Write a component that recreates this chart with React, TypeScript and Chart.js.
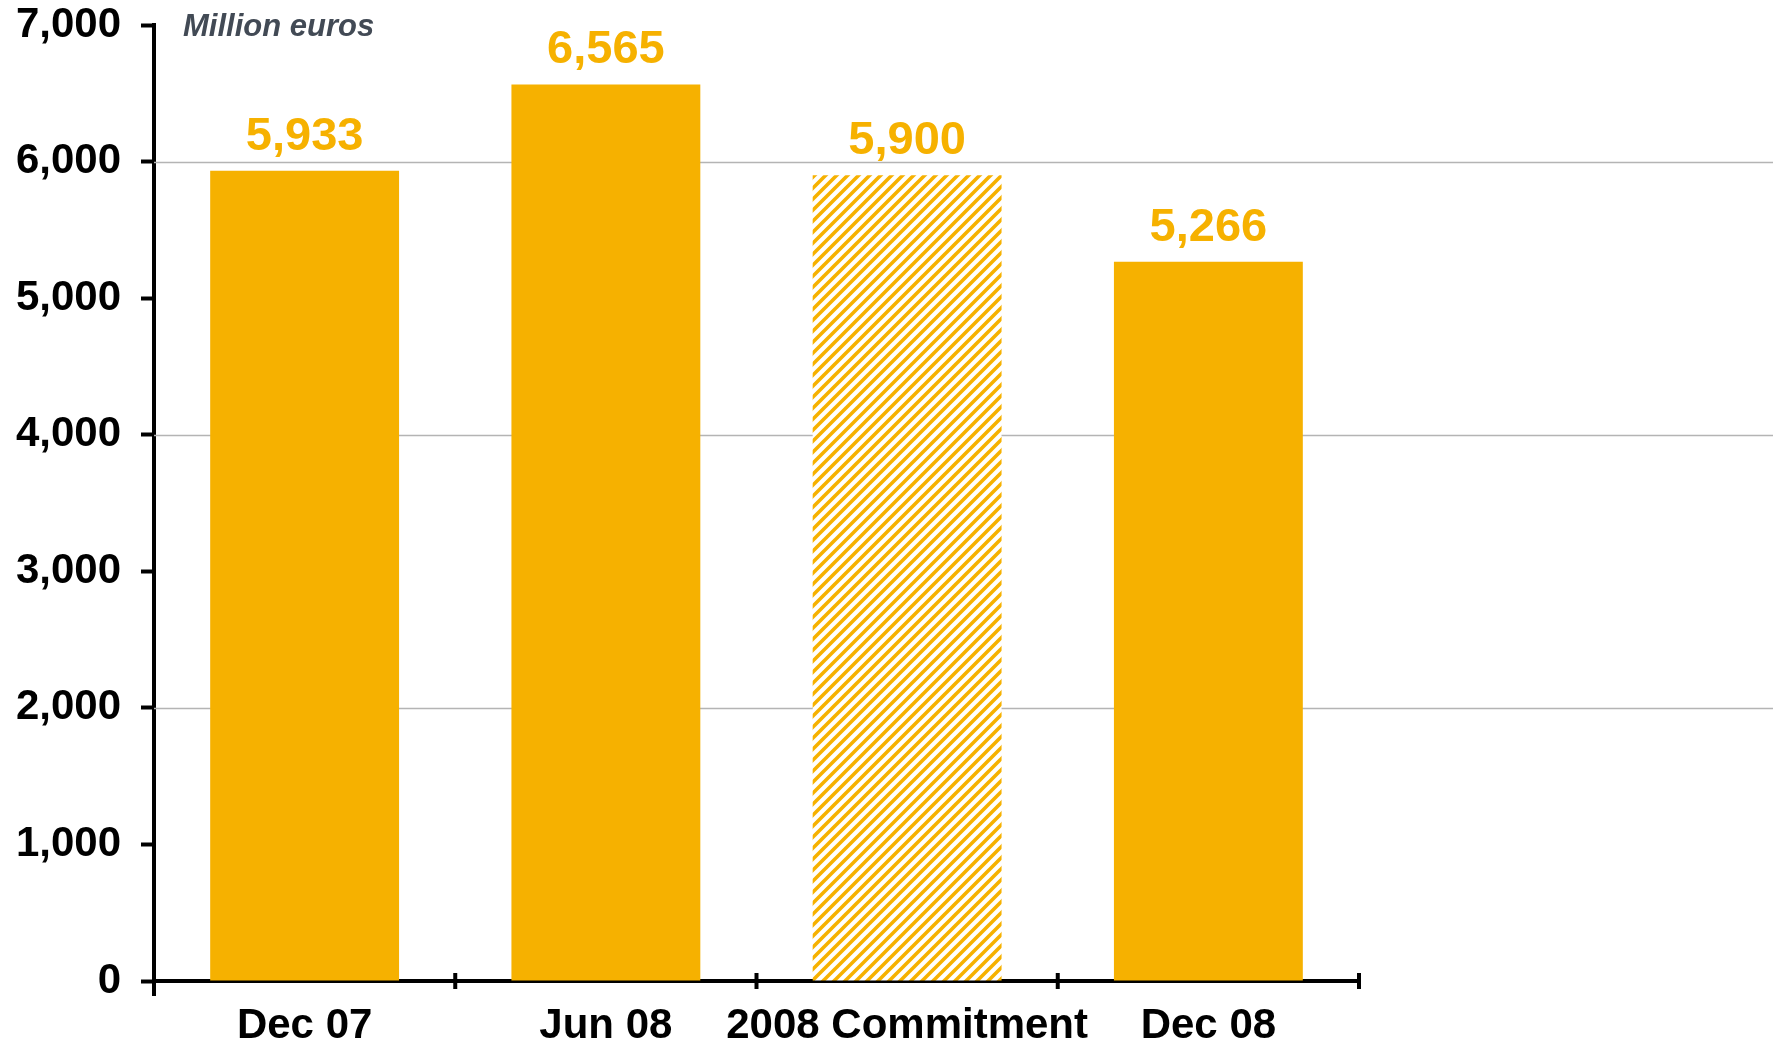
import React, { useEffect, useRef } from "react";
import { Chart, registerables } from "chart.js";

Chart.register(...registerables);

const categories = ["Dec 07", "Jun 08", "2008 Commitment", "Dec 08"];
const values = [5933, 6565, 5900, 5266];
const hatched = [false, false, true, false];
const gridValues = [2000, 4000, 6000];
const yMin = 0;
const yMax = 7000;
const yStep = 1000;
const unitLabel = "Million euros";

const ORANGE = "#F6B100";
const FONT = "'Liberation Sans', Arial, Helvetica, sans-serif";

const fmt = (v: number) => v.toLocaleString("en-US");

function makePattern(): CanvasPattern | string {
  const size = 11;
  const c = document.createElement("canvas");
  c.width = size;
  c.height = size;
  const ctx = c.getContext("2d");
  if (!ctx) return ORANGE;
  ctx.fillStyle = "#ffffff";
  ctx.fillRect(0, 0, size, size);
  ctx.strokeStyle = ORANGE;
  ctx.lineWidth = 3.6;
  ctx.lineCap = "square";
  const lines = [
    [-size, size, size, -size],
    [0, size, size, 0],
    [0, 2 * size, 2 * size, 0],
  ];
  for (const [x1, y1, x2, y2] of lines) {
    ctx.beginPath();
    ctx.moveTo(x1, y1);
    ctx.lineTo(x2, y2);
    ctx.stroke();
  }
  const p = ctx.createPattern(c, "repeat");
  return p || ORANGE;
}

const decorPlugin = {
  id: "decor",
  beforeDatasetsDraw(chart: any) {
    const { ctx, chartArea, scales } = chart;
    const y = scales.y;
    ctx.save();
    ctx.strokeStyle = "#b4b4b4";
    ctx.lineWidth = 1.5;
    for (const g of gridValues) {
      const py = Math.round(y.getPixelForValue(g)) + 0.5;
      ctx.beginPath();
      ctx.moveTo(chartArea.left, py);
      ctx.lineTo(chart.width, py);
      ctx.stroke();
    }
    ctx.restore();
  },
  afterDatasetsDraw(chart: any) {
    const { ctx, chartArea, scales } = chart;
    const x = scales.x;
    const bottom = chartArea.bottom;
    ctx.save();
    ctx.strokeStyle = "#000";
    ctx.lineWidth = 4;
    const n = categories.length;
    const half = (x.getPixelForValue(1) - x.getPixelForValue(0)) / 2;
    for (let i = 1; i <= n; i++) {
      const px = x.getPixelForValue(i - 1) + half;
      ctx.beginPath();
      ctx.moveTo(px, bottom - 8);
      ctx.lineTo(px, bottom + 8);
      ctx.stroke();
    }
    ctx.beginPath();
    ctx.moveTo(chartArea.left, bottom);
    ctx.lineTo(chartArea.left, bottom + 15);
    ctx.stroke();

    const meta = chart.getDatasetMeta(0);
    ctx.fillStyle = ORANGE;
    ctx.font = `bold 47px ${FONT}`;
    ctx.textAlign = "center";
    ctx.textBaseline = "alphabetic";
    meta.data.forEach((bar: any, i: number) => {
      ctx.fillText(fmt(values[i]), bar.x, bar.y - 21);
    });

    ctx.fillStyle = "#424a55";
    ctx.font = `italic bold 31px ${FONT}`;
    ctx.textAlign = "left";
    ctx.fillText(unitLabel, chartArea.left + 29, 36);
    ctx.restore();
  },
};

export default function App() {
  const ref = useRef<HTMLCanvasElement | null>(null);

  useEffect(() => {
    document.body.style.margin = "0";
    const canvas = ref.current;
    if (!canvas) return;
    const pattern = makePattern();
    const colors = hatched.map((h) => (h ? pattern : ORANGE));
    const chart = new Chart(canvas, {
      type: "bar",
      data: {
        labels: categories,
        datasets: [
          {
            data: values,
            backgroundColor: colors as any,
            borderWidth: 0,
            barPercentage: 0.627,
            categoryPercentage: 1,
          },
        ],
      },
      options: {
        responsive: false,
        animation: false,
        devicePixelRatio: 1,
        layout: { padding: { top: 25, right: 414, left: 0, bottom: 0 } },
        plugins: {
          legend: { display: false },
          tooltip: { enabled: false },
          title: { display: false },
        },
        scales: {
          x: {
            type: "category",
            offset: true,
            grid: { display: false },
            border: { display: true, color: "#000", width: 4 },
            ticks: {
              color: "#000",
              font: { family: FONT, size: 42, weight: "bold" },
              padding: 12,
              maxRotation: 0,
              autoSkip: false,
            },
            afterFit(scale: any) {
              scale.height = 63;
              scale.paddingLeft = 0;
              scale.paddingRight = 0;
            },
          },
          y: {
            min: yMin,
            max: yMax,
            grid: {
              drawOnChartArea: false,
              drawTicks: true,
              tickLength: 13,
              tickColor: "#000",
              tickWidth: 4,
            },
            border: { display: true, color: "#000", width: 4 },
            ticks: {
              stepSize: yStep,
              color: "#000",
              font: { family: FONT, size: 42, weight: "bold" },
              padding: 20,
              callback: (v: any) => fmt(Number(v)),
            },
            afterFit(scale: any) {
              scale.width = 154;
              scale.paddingTop = 0;
              scale.paddingBottom = 0;
            },
          },
        },
      },
      plugins: [decorPlugin],
    });
    return () => chart.destroy();
  }, []);

  return (
    <div style={{ width: 1773, height: 1044, background: "#fff" }}>
      <canvas ref={ref} width={1773} height={1044} style={{ display: "block" }} />
    </div>
  );
}
